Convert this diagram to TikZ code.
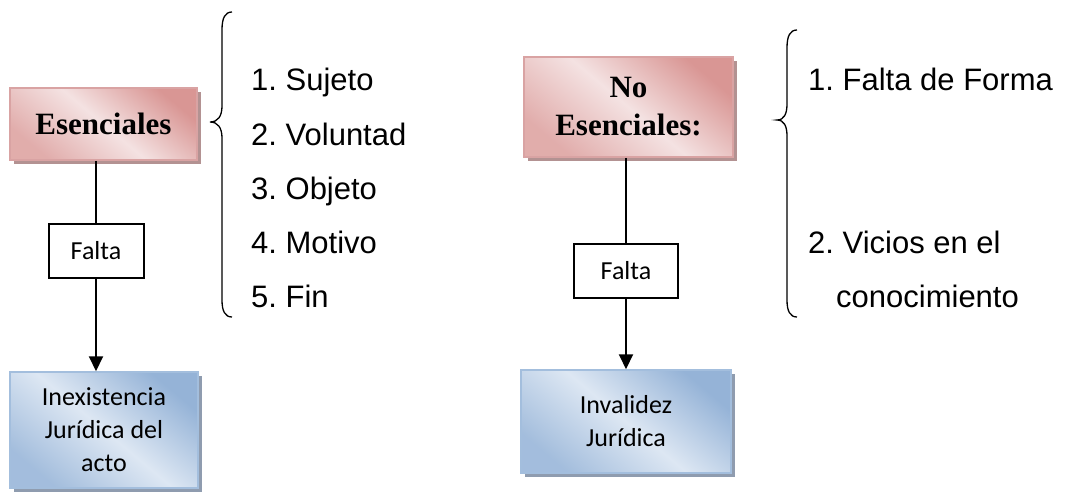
\documentclass[tikz,border=0pt]{standalone}
\usepackage{fontspec}
\setmainfont{Liberation Sans}
\newfontfamily\timesf{Liberation Serif}
\newfontfamily\calib{Carlito}
\usetikzlibrary{shadows,arrows.meta}
\frenchspacing
\definecolor{pinkdark}{HTML}{D99694}
\definecolor{pinklight}{HTML}{F4E2E2}
\definecolor{pinkedge}{HTML}{D9A3A3}
\definecolor{pinkshadow}{HTML}{B39292}
\definecolor{bluedark}{HTML}{95B3D7}
\definecolor{bluelight}{HTML}{DDE7F3}
\definecolor{blueedge}{HTML}{A3BEDD}
\definecolor{blueshadow}{HTML}{8F9CAF}
\tikzset{
  pinkbox/.style={draw=pinkedge, line width=1.5pt, top color=pinkdark, bottom color=pinkdark!70!pinklight, middle color=pinklight, shading angle=-40,
    general shadow={fill=pinkshadow, shadow xshift=4pt, shadow yshift=-4pt},
    align=center, inner sep=0pt, font=\timesf\bfseries\fontsize{31}{38}\selectfont},
  bluebox/.style={draw=blueedge, line width=1.5pt, top color=bluedark, bottom color=bluedark!80!bluelight, middle color=bluelight, shading angle=-40,
    general shadow={fill=blueshadow, shadow xshift=4pt, shadow yshift=-4pt},
    align=center, inner sep=0pt, font=\calib\fontsize{26}{33}\selectfont},
  faltabox/.style={draw=black, line width=2pt, fill=white, inner sep=0pt, minimum height=54pt, font=\calib\fontsize{26}{32}\selectfont},
  item/.style={anchor=base west, inner sep=0pt, font=\frenchspacing\fontsize{31}{37}\selectfont},
  conn/.style={line width=2pt, draw=black},
  arr/.style={conn, -{Triangle[length=15pt,width=14pt]}},
  bracepath/.style={line width=1.3pt, draw=black}
}
\begin{document}
\begin{tikzpicture}[x=1pt,y=-1pt]
\useasboundingbox (0,0) rectangle (1079,499);
% left column
\node[pinkbox, minimum width=187pt, minimum height=72pt] (esen) at (103.5,124) {Esenciales};
\node[faltabox, minimum width=95pt] (falta1) at (96,251) {Falta};
\node[bluebox, minimum width=188pt, minimum height=116pt] (inex) at (104,430) {Inexistencia\\Jurídica del\\acto};
\draw[conn] (falta1.north |- esen.south) -- (falta1.north);
\draw[arr] (falta1.south) -- (falta1.south |- inex.north);
% left brace
\draw[bracepath] (232,12) .. controls (225,12) and (222,18) .. (222,30) -- (222,106) .. controls (222,116) and (218,122) .. (210,122) .. controls (218,122) and (222,128) .. (222,138) -- (222,300) .. controls (222,311) and (225,317) .. (232,317);
% left list
\node[item] (s1) at (251,90) {1. Sujeto};
\node[item] (s2) at (251,145) {2. Voluntad};
\node[item] (s3) at (251,199) {3. Objeto};
\node[item] (s4) at (251,253) {4. Motivo};
\node[item] (s5) at (251,307) {5. Fin};
% right column
\node[pinkbox, minimum width=209pt, minimum height=100pt] (noesen) at (628.5,107) {No\\Esenciales:};
\node[faltabox, minimum width=104pt] (falta2) at (626,271) {Falta};
\node[bluebox, minimum width=210pt, minimum height=103pt] (inval) at (626,421.5) {Invalidez\\Jurídica};
\draw[conn] (falta2.north |- noesen.south) -- (falta2.north);
\draw[arr] (falta2.south) -- (falta2.south |- inval.north);
% right brace
\draw[bracepath] (797,30) .. controls (790,30) and (787,36) .. (787,48) -- (787,104) .. controls (787,114) and (784,120) .. (777,120) .. controls (784,120) and (787,126) .. (787,136) -- (787,300) .. controls (787,311) and (790,317) .. (797,317);
% right list
\node[item] (r1) at (808,90) {1. Falta de Forma};
\node[item] (r2) at (808,253) {2. Vicios en el};
\node[item] (r3) at (836,307) {conocimiento};
\end{tikzpicture}
\end{document}
